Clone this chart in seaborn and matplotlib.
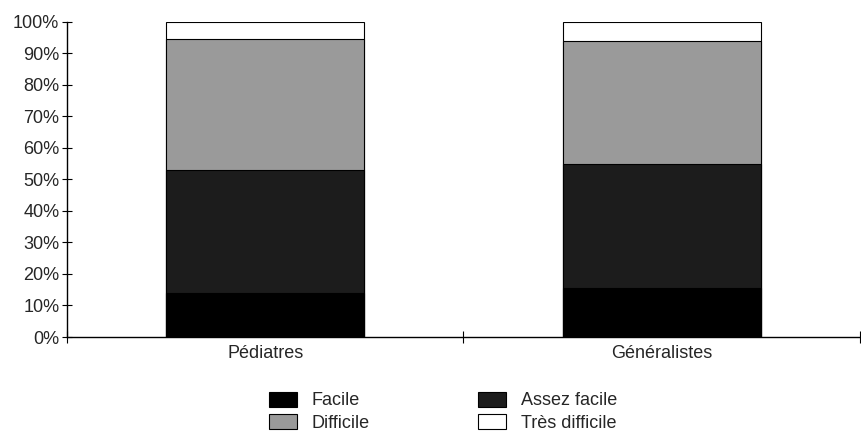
"""Stacked 100% bars: perceived difficulty, pediatricians vs GPs."""

import matplotlib
matplotlib.use("Agg")
import matplotlib.pyplot as plt
import pandas as pd
import seaborn as sns

# data (percent per group)
groups = ["Pédiatres", "Généralistes"]
levels = ["Facile", "Assez facile", "Difficile", "Très difficile"]
facile = [14.0, 15.5]
assez_facile = [39.0, 39.5]
difficile = [41.5, 38.8]
tres_difficile = [5.5, 6.2]
y_ticks = [0, 10, 20, 30, 40, 50, 60, 70, 80, 90, 100]

colors = {"Facile": "#000000", "Assez facile": "#1c1c1c",
          "Difficile": "#9a9a9a", "Très difficile": "#ffffff"}

sns.set_theme(style="white")
plt.rcParams["font.family"] = ["Liberation Sans", "DejaVu Sans"]

df = pd.DataFrame({"groupe": groups, "Facile": facile, "Assez facile": assez_facile,
                   "Difficile": difficile, "Très difficile": tres_difficile})
cum = df[levels].cumsum(axis=1)
cum["groupe"] = df["groupe"]

fig = plt.figure(figsize=(8.62, 4.37), dpi=100)
ax = fig.add_axes([0.0777, 0.2288, 0.920, 0.7215])

# draw cumulative totals from the top level down so each covers the one above
for lvl in reversed(levels):
    sns.barplot(data=cum, x="groupe", y=lvl, color=colors[lvl], width=0.5,
                edgecolor="black", linewidth=0.8, saturation=1, ax=ax, label=lvl)

handles, labels = ax.get_legend_handles_labels()
if ax.get_legend() is not None:
    ax.get_legend().remove()

ax.set_xlim(-0.5, 1.5)
ax.set_ylim(0, 100)
ax.set_xlabel("")
ax.set_ylabel("")
ax.set_yticks(y_ticks)
ax.set_yticklabels([f"{v}%" for v in y_ticks], fontsize=13)
ax.set_xticks([0, 1])
ax.set_xticklabels(groups, fontsize=13)
ax.set_xticks([-0.5, 0.5, 1.5], minor=True)
ax.tick_params(axis="x", which="major", length=0, pad=6)
ax.tick_params(axis="x", which="minor", direction="inout", length=8, width=0.8,
               color="black", bottom=True)
ax.tick_params(axis="y", direction="inout", length=7, width=0.8, color="black",
               left=True, pad=2)
for side in ["top", "right"]:
    ax.spines[side].set_visible(False)
for side in ["left", "bottom"]:
    ax.spines[side].set_color("black")
    ax.spines[side].set_linewidth(1.0)

lookup = dict(zip(labels, handles))
order = ["Facile", "Difficile", "Assez facile", "Très difficile"]
fig.legend([lookup[k] for k in order], order, ncol=2, frameon=False,
           loc="center", bbox_to_anchor=(0.514, 0.058), fontsize=13,
           handlelength=1.55, handleheight=0.9, handletextpad=0.8,
           columnspacing=6.0, labelspacing=0.25)

fig.savefig("out.png", dpi=100)
plt.close(fig)
